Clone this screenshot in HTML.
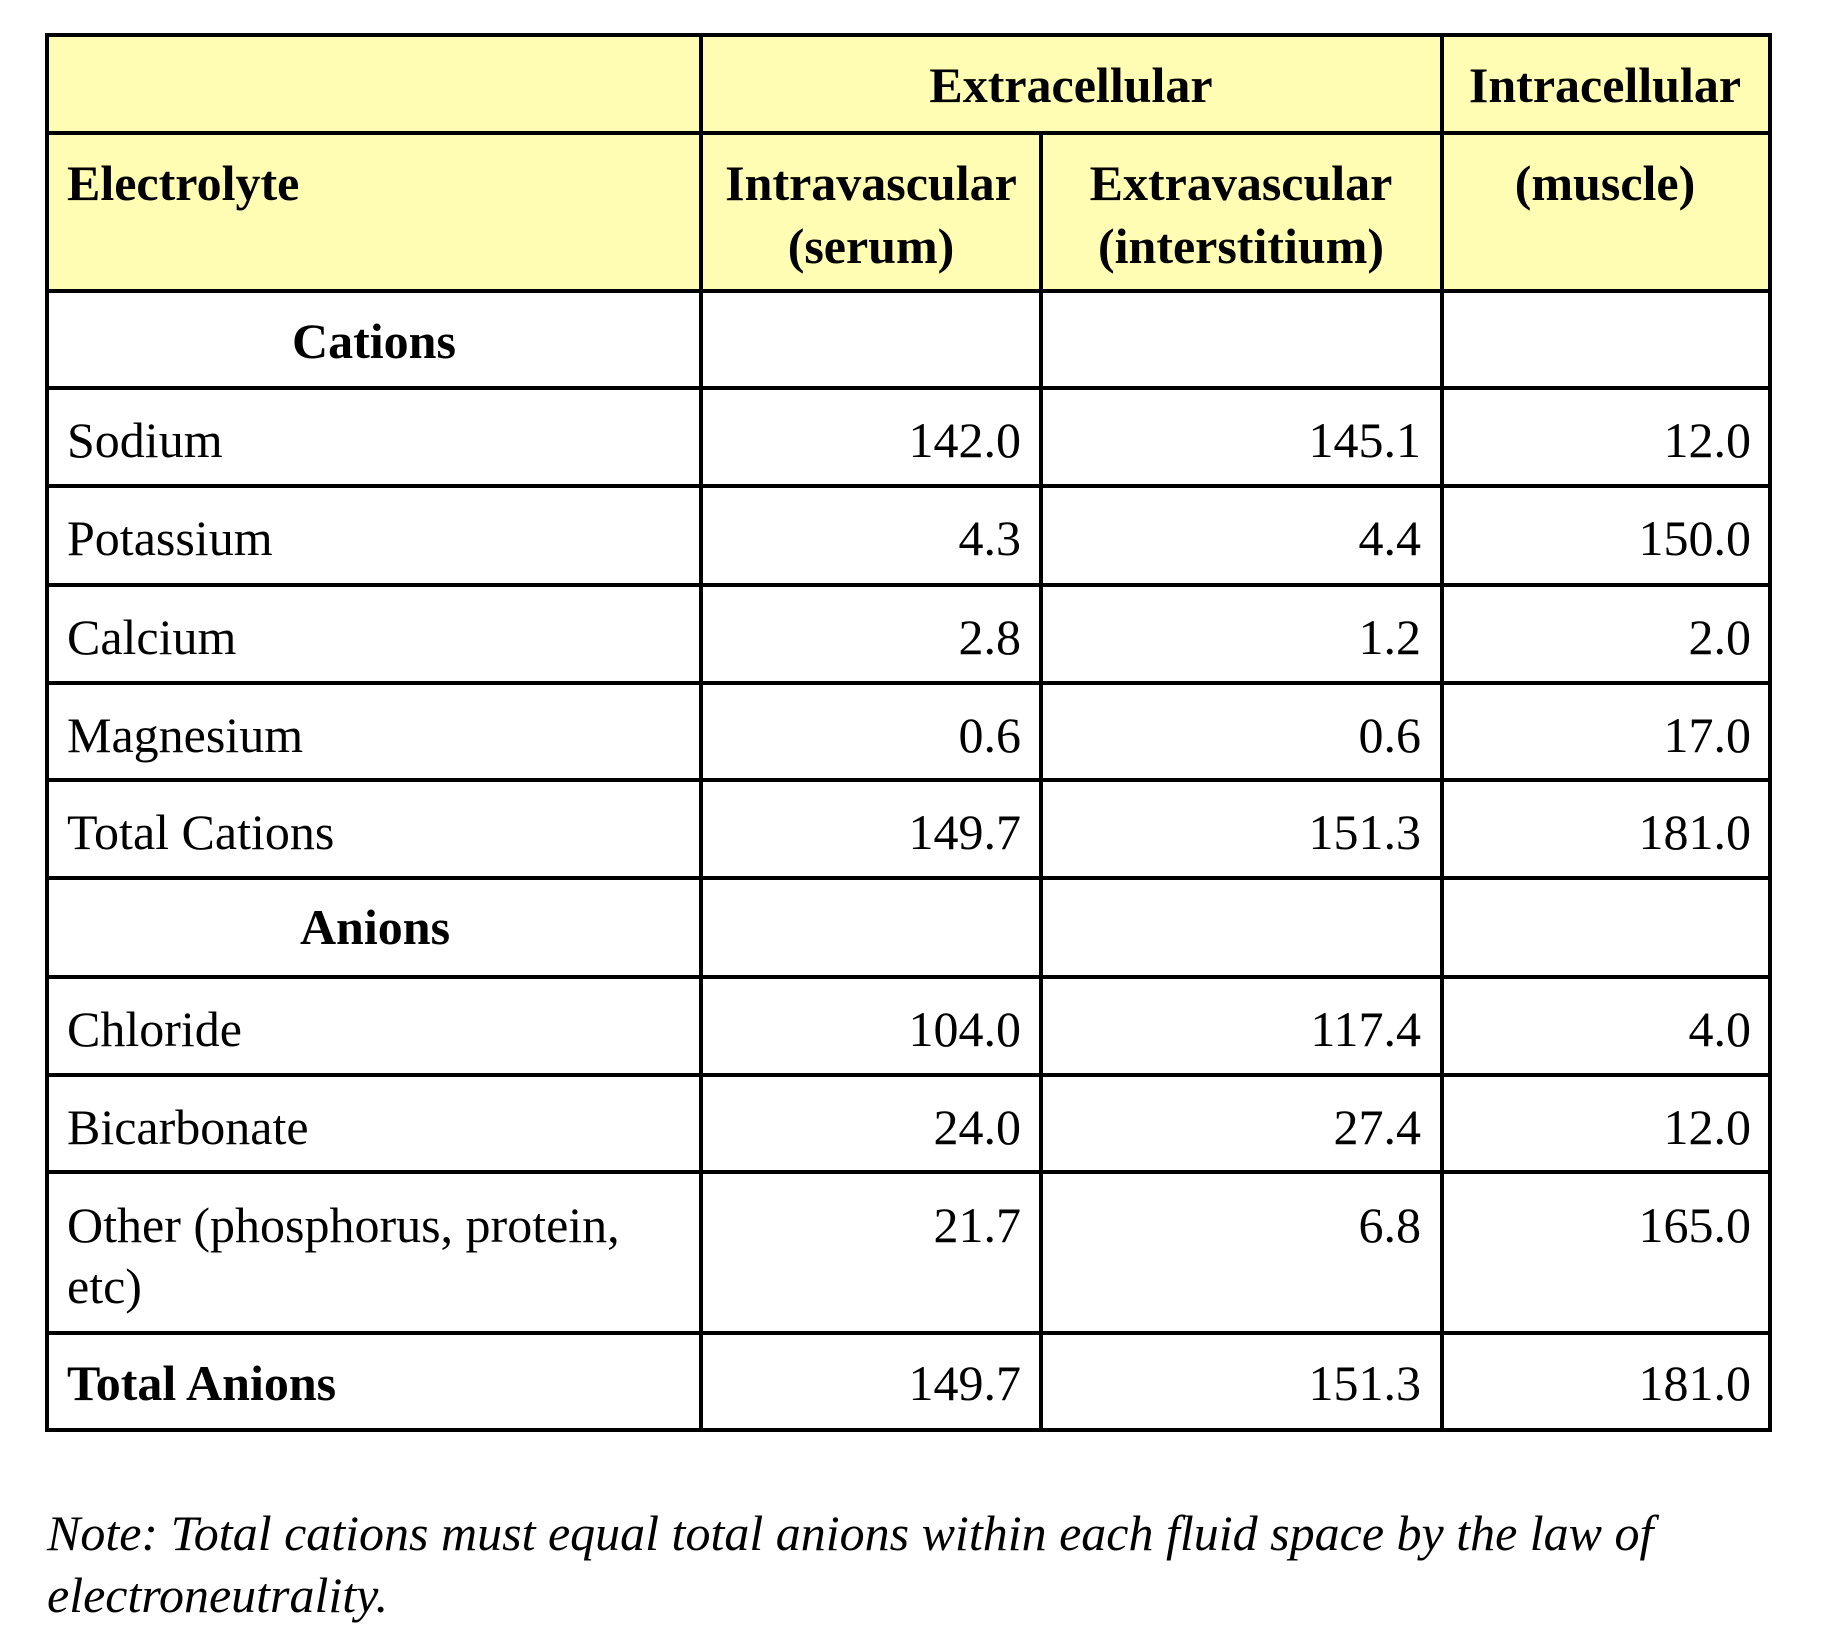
<!DOCTYPE html>
<html><head><meta charset="utf-8"><style>
html,body{margin:0;padding:0;background:#fff;}
svg{display:block;}
text{font-family:"Liberation Serif","Times New Roman",serif;font-size:50px;fill:#000;}
.b{font-weight:bold;}
.i{font-style:italic;}
</style></head><body>
<svg width="1823" height="1626" viewBox="0 0 1823 1626">
<rect x="47" y="35" width="1723" height="256" fill="#FFFDB3"/>
<g stroke="#000" stroke-width="4">
<rect x="47" y="35" width="1723" height="1395" fill="none"/>
<line x1="47" y1="133" x2="1770" y2="133"/>
<line x1="47" y1="291" x2="1770" y2="291"/>
<line x1="47" y1="388" x2="1770" y2="388"/>
<line x1="47" y1="486" x2="1770" y2="486"/>
<line x1="47" y1="585" x2="1770" y2="585"/>
<line x1="47" y1="683" x2="1770" y2="683"/>
<line x1="47" y1="780" x2="1770" y2="780"/>
<line x1="47" y1="878" x2="1770" y2="878"/>
<line x1="47" y1="977" x2="1770" y2="977"/>
<line x1="47" y1="1075" x2="1770" y2="1075"/>
<line x1="47" y1="1172" x2="1770" y2="1172"/>
<line x1="47" y1="1333" x2="1770" y2="1333"/>
<line x1="701" y1="35" x2="701" y2="1430"/>
<line x1="1041" y1="133" x2="1041" y2="1430"/>
<line x1="1442" y1="35" x2="1442" y2="1430"/>
</g>
<g class="b">
<text x="1071" y="102" text-anchor="middle" class="b">Extracellular</text>
<text x="1605" y="102" text-anchor="middle" class="b">Intracellular</text>
<text x="67" y="200" class="b">Electrolyte</text>
<text x="871" y="200" text-anchor="middle" class="b">Intravascular</text>
<text x="871" y="263" text-anchor="middle" class="b">(serum)</text>
<text x="1241" y="200" text-anchor="middle" class="b">Extravascular</text>
<text x="1241" y="263" text-anchor="middle" class="b">(interstitium)</text>
<text x="1605" y="200" text-anchor="middle" class="b">(muscle)</text>
<text x="374" y="358" text-anchor="middle" class="b">Cations</text>
<text x="375" y="944" text-anchor="middle" class="b">Anions</text>
<text x="67" y="1400" class="b">Total Anions</text>
</g>
<g>
<text x="67" y="457">Sodium</text><text x="1021" y="457" text-anchor="end">142.0</text><text x="1421" y="457" text-anchor="end">145.1</text><text x="1751" y="457" text-anchor="end">12.0</text></g>
<g>
<text x="67" y="555">Potassium</text><text x="1021" y="555" text-anchor="end">4.3</text><text x="1421" y="555" text-anchor="end">4.4</text><text x="1751" y="555" text-anchor="end">150.0</text></g>
<g>
<text x="67" y="654">Calcium</text><text x="1021" y="654" text-anchor="end">2.8</text><text x="1421" y="654" text-anchor="end">1.2</text><text x="1751" y="654" text-anchor="end">2.0</text></g>
<g>
<text x="67" y="752">Magnesium</text><text x="1021" y="752" text-anchor="end">0.6</text><text x="1421" y="752" text-anchor="end">0.6</text><text x="1751" y="752" text-anchor="end">17.0</text></g>
<g>
<text x="67" y="849">Total Cations</text><text x="1021" y="849" text-anchor="end">149.7</text><text x="1421" y="849" text-anchor="end">151.3</text><text x="1751" y="849" text-anchor="end">181.0</text></g>
<g>
<text x="67" y="1046">Chloride</text><text x="1021" y="1046" text-anchor="end">104.0</text><text x="1421" y="1046" text-anchor="end">117.4</text><text x="1751" y="1046" text-anchor="end">4.0</text></g>
<g>
<text x="67" y="1144">Bicarbonate</text><text x="1021" y="1144" text-anchor="end">24.0</text><text x="1421" y="1144" text-anchor="end">27.4</text><text x="1751" y="1144" text-anchor="end">12.0</text></g>
<g>
<text x="67" y="1242">Other (phosphorus, protein,</text><text x="67" y="1303">etc)</text><text x="1021" y="1242" text-anchor="end">21.7</text><text x="1421" y="1242" text-anchor="end">6.8</text><text x="1751" y="1242" text-anchor="end">165.0</text></g>
<g>
<text x="1021" y="1400" text-anchor="end">149.7</text><text x="1421" y="1400" text-anchor="end">151.3</text><text x="1751" y="1400" text-anchor="end">181.0</text></g>
<g>
<text x="47" y="1550" class="i">Note: Total cations must equal total anions within each fluid space by the law of</text>
<text x="47" y="1612" class="i">electroneutrality.</text>
</g>
</svg>
</body></html>
